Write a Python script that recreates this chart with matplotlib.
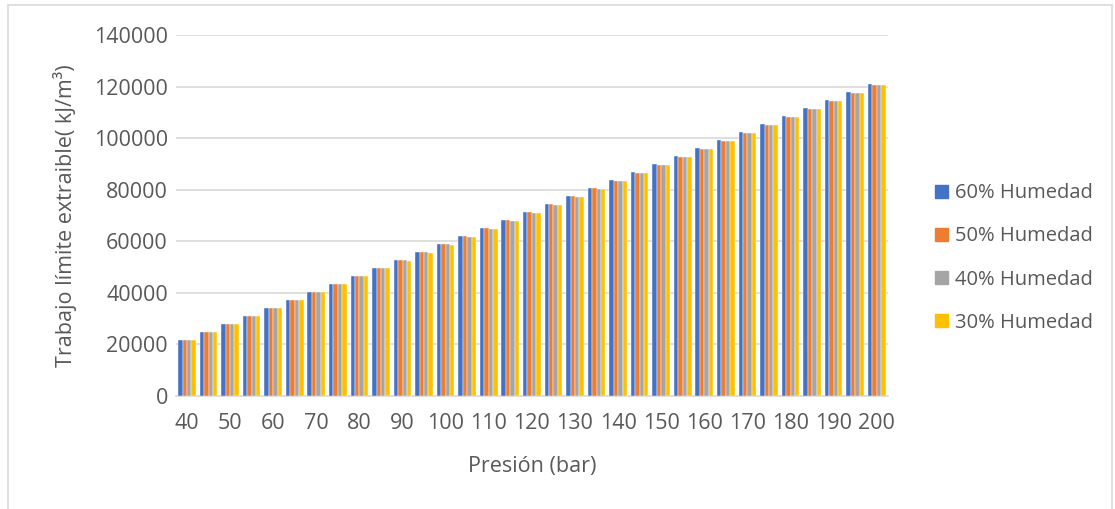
import matplotlib.pyplot as plt
import matplotlib.patches as mpatches
import numpy as np

plt.rcParams['font.family'] = ['Open Sans', 'DejaVu Sans']

# Presión (bar)
presion = [40, 45, 50, 55, 60, 65, 70, 75, 80, 85, 90, 95, 100, 105, 110, 115, 120,
           125, 130, 135, 140, 145, 150, 155, 160, 165, 170, 175, 180, 185, 190, 195, 200]

hum_60 = [21700, 24800, 27900, 31000, 34100, 37200, 40300, 43400, 46500, 49600, 52700,
          55800, 58900, 62000, 65100, 68200, 71300, 74400, 77500, 80600, 83700, 86800,
          89900, 93000, 96100, 99200, 102300, 105400, 108500, 111600, 114700, 117800, 121000]
hum_50 = [21700, 24800, 27890, 30980, 34080, 37170, 40270, 43360, 46460, 49550, 52650,
          55740, 58840, 61930, 65030, 68120, 71220, 74310, 77410, 80500, 83600, 86690,
          89790, 92880, 95980, 99070, 102170, 105260, 108360, 111450, 114550, 117640, 120840]
hum_40 = [21700, 24790, 27880, 30970, 34060, 37150, 40240, 43330, 46420, 49510, 52600,
          55690, 58780, 61870, 64960, 68050, 71140, 74230, 77320, 80410, 83500, 86590,
          89680, 92770, 95860, 98950, 102040, 105130, 108220, 111310, 114400, 117490, 120680]
hum_30 = [21700, 24790, 27870, 30960, 34040, 37130, 40210, 43300, 46390, 49470, 52560,
          55650, 58730, 61820, 64900, 67990, 71080, 74160, 77250, 80330, 83420, 86510,
          89590, 92680, 95760, 98850, 101940, 105020, 108110, 111190, 114280, 117370, 120550]

series = [
    ("60% Humedad", hum_60, "#4472C4"),
    ("50% Humedad", hum_50, "#ED7D31"),
    ("40% Humedad", hum_40, "#A5A5A5"),
    ("30% Humedad", hum_30, "#FFC000"),
]

fig = plt.figure(figsize=(11.15, 5.09), dpi=100)
ax = fig.add_axes([0.158, 0.222, 0.638, 0.709])

x = np.arange(len(presion))
w = 0.205
for k, (name, vals, col) in enumerate(series):
    ax.bar(x + (k - 1.5) * w, vals, width=w, color=col, label=name,
           edgecolor='white', linewidth=0.3, zorder=3)

ax.set_xlim(-0.5, len(presion) - 0.5)
ax.set_ylim(0, 140000)
ax.set_yticks(np.arange(0, 140001, 20000))
ax.set_xticks(x[::2])
ax.set_xticklabels([str(p) for p in presion[::2]])
ax.grid(axis='y', color='#D9D9D9', linewidth=1.2, zorder=0)
for s in ['top', 'right', 'left']:
    ax.spines[s].set_visible(False)
ax.spines['bottom'].set_color('#D9D9D9')
ax.spines['bottom'].set_linewidth(1.2)
ax.tick_params(axis='both', length=0, colors='#595959', labelsize=15.5)
ax.tick_params(axis='y', pad=6)
ax.tick_params(axis='x', pad=12)

ax.set_xlabel("Presión (bar)", fontsize=15.5, color='#595959', labelpad=16)
ax.set_ylabel("Trabajo límite extraible( kJ/m³)", fontsize=15.5, color='#595959', labelpad=12)

handles = [mpatches.Patch(color=c) for _, _, c in series]
fig.legend(handles, [n for n, _, _ in series], loc='center left',
           bbox_to_anchor=(0.822, 0.493), frameon=False, fontsize=14.5,
           labelcolor='#595959', handlelength=0.65, handleheight=0.65,
           handletextpad=0.35, labelspacing=1.15)

# chart frame
fig.patches.append(mpatches.Rectangle((0.007, -0.01), 0.99, 1.0, transform=fig.transFigure,
                                      fill=False, edgecolor='#D9D9D9', linewidth=1.2))

fig.savefig("out.png", dpi=100)
